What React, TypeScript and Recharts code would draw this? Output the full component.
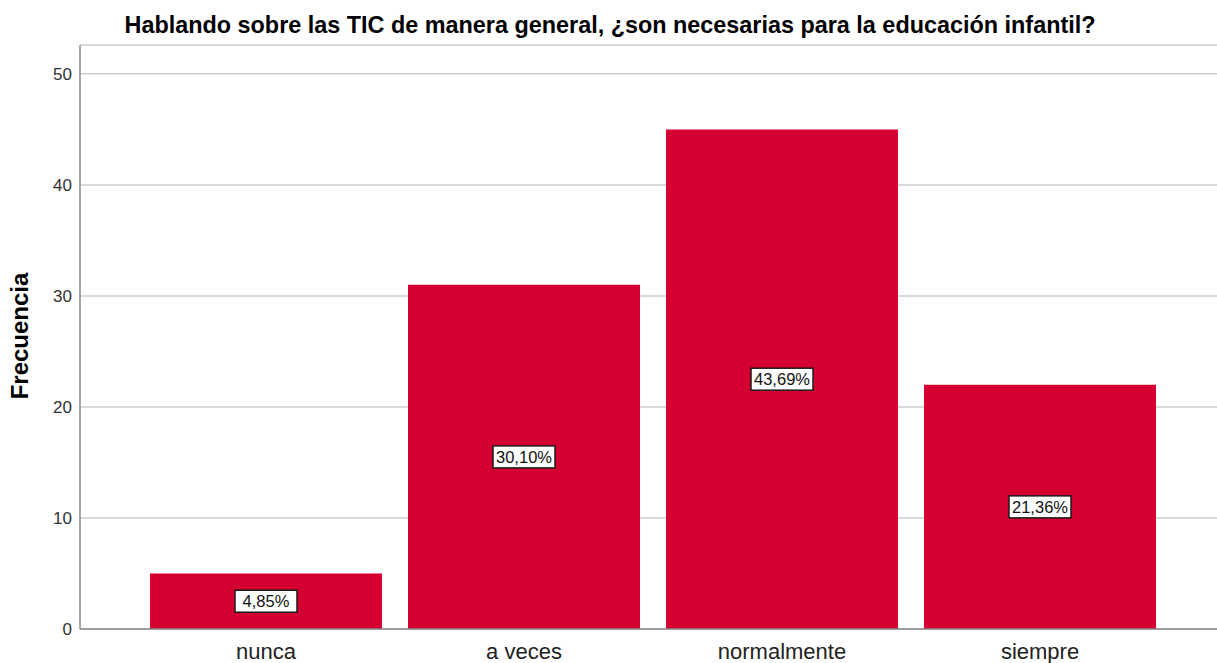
import { BarChart, Bar, XAxis, YAxis, CartesianGrid, LabelList } from "recharts";

const categories = ["nunca", "a veces", "normalmente", "siempre"];
const frecuencias = [5, 31, 45, 22];
const yTicks = [0, 10, 20, 30, 40, 50];

const total = frecuencias.reduce((a, b) => a + b, 0);
const data = categories.map((cat, i) => ({
  cat,
  freq: frecuencias[i],
  pct: ((frecuencias[i] / total) * 100).toFixed(2).replace(".", ",") + "%",
}));

const FONT = '"Liberation Sans", Arial, sans-serif';

// white box with the percentage, centred in the bar
function PctLabel(props: any) {
  const { x, y, width, height, value } = props;
  const cx = x + width / 2;
  const cy = y + height / 2;
  const w = 62;
  const h = 22;
  return (
    <g>
      <rect x={cx - w / 2} y={cy - h / 2} width={w} height={h} fill="#fff" stroke="#1a1a1a" strokeWidth={1.5} />
      <text x={cx} y={cy + 6} textAnchor="middle" fontSize={16.5} fontFamily={FONT} fill="#111">
        {value}
      </text>
    </g>
  );
}

export default function App() {
  return (
    <div style={{ position: "absolute", left: 0, top: 0, width: 1217, height: 663, background: "#fff", fontFamily: FONT }}>
      <div
        style={{
          position: "absolute", left: 0, top: 14, width: 1220, textAlign: "center",
          fontSize: 23.4, lineHeight: "23px", fontWeight: "bold", color: "#000", whiteSpace: "nowrap",
        }}
      >
        Hablando sobre las TIC de manera general, ¿son necesarias para la educación infantil?
      </div>
      <div
        style={{
          position: "absolute", left: 20, top: 336, transform: "translate(-50%,-50%) rotate(-90deg)",
          fontSize: 24, fontWeight: "bold", color: "#000", whiteSpace: "nowrap", lineHeight: "24px",
        }}
      >
        Frecuencia
      </div>
      <BarChart width={1217} height={663} data={data} margin={{ top: 45, right: 0, bottom: 0, left: 0 }} barCategoryGap={13}>
        <CartesianGrid vertical={false} stroke="#cccccc" strokeWidth={1.5} />
        <XAxis
          dataKey="cat"
          height={34}
          padding={{ left: 57, right: 48 }}
          tickLine={false}
          tickMargin={8}
          axisLine={{ stroke: "#888", strokeWidth: 1.5 }}
          tick={{ fill: "#222", fontSize: 22, fontFamily: FONT }}
        />
        <YAxis
          width={80}
          domain={[0, 52.6]}
          ticks={yTicks}
          tickLine={false}
          axisLine={{ stroke: "#888", strokeWidth: 1.5 }}
          tick={{ fill: "#333", fontSize: 17, fontFamily: FONT }}
        />
        <Bar dataKey="freq" fill="#d50032" isAnimationActive={false}>
          <LabelList dataKey="pct" content={PctLabel} />
        </Bar>
      </BarChart>
    </div>
  );
}
